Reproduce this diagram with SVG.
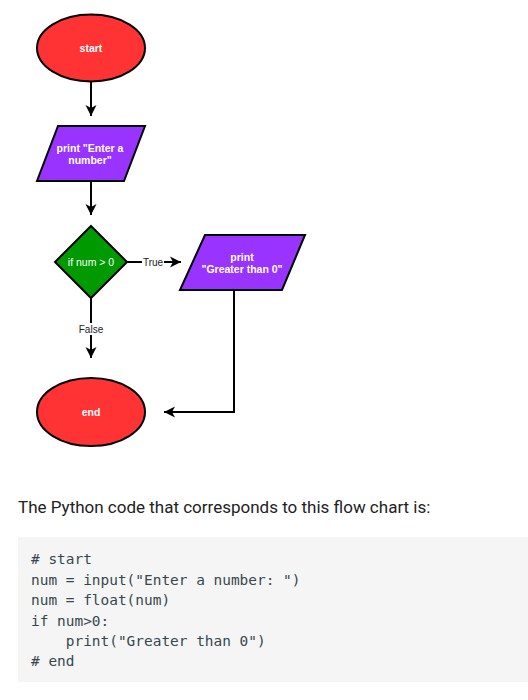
<svg xmlns="http://www.w3.org/2000/svg" width="528" height="700" viewBox="0 0 528 700">
<style>
.shape{stroke:#000;stroke-width:2}
.term{fill:#ff3333}
.io{fill:#9933ff}
.dec{fill:#009900}
.lbl{font-family:"Liberation Sans",Arial,sans-serif;font-size:10.5px;fill:#fff;text-anchor:middle}
.b{font-weight:bold}
.edge{fill:none;stroke:#000;stroke-width:2}
.elbl{font-family:"Liberation Sans",Arial,sans-serif;font-size:10px;fill:#222;text-anchor:middle}
.code{font-family:"DejaVu Sans Mono","Liberation Mono",monospace;font-size:14.45px;fill:#37474f;white-space:pre}
</style>
<defs>
<marker id="arr" viewBox="0 0 12 12" refX="11" refY="6" markerWidth="12" markerHeight="12" markerUnits="userSpaceOnUse" orient="auto">
<path d="M0,0.5 L11,6 L0,11.5 L3,6 Z" fill="#000"/>
</marker>
</defs>
<rect width="528" height="700" fill="#fff"/>
<g id="connectors">
<path class="edge" d="M91,82 V116" marker-end="url(#arr)"/>
<path class="edge" d="M91,181 V215" marker-end="url(#arr)"/>
<path class="edge" d="M127,262 H181" marker-end="url(#arr)"/>
<rect x="142" y="256" width="22" height="12" fill="#fff"/>
<text class="elbl" x="153" y="266">True</text>
<path class="edge" d="M91,298 V358" marker-end="url(#arr)"/>
<rect x="77" y="323" width="28" height="12" fill="#fff"/>
<text class="elbl" x="91" y="333">False</text>
<path class="edge" d="M234,290 V412 H164" marker-end="url(#arr)"/>
</g>
<g id="start">
<ellipse class="shape term" cx="91" cy="48" rx="54" ry="33.5"/>
<text class="lbl b" x="91" y="51.5">start</text>
</g>
<g id="input">
<polygon class="shape io" points="58,126 145,126 124,181 37,181"/>
<text class="lbl b" x="90" y="151.5">print "Enter a</text>
<text class="lbl b" x="90" y="164">number"</text>
</g>
<g id="decision">
<polygon class="shape dec" points="91,226 127,262 91,298 55,262"/>
<text class="lbl" x="91" y="265.5">if num &gt; 0</text>
</g>
<g id="output">
<polygon class="shape io" points="205,235 305,235 282,290 180,290"/>
<text class="lbl b" x="242" y="260.5">print</text>
<text class="lbl b" x="242" y="273">"Greater than 0"</text>
</g>
<g id="end">
<ellipse class="shape term" cx="91" cy="412" rx="54" ry="34"/>
<text class="lbl b" x="91" y="415.5">end</text>
</g>
<text x="18" y="513" font-family="Roboto,'Noto Sans',sans-serif" font-size="17px" fill="#222">The Python code that corresponds to this flow chart is:</text>
<rect x="18" y="537" width="510" height="145" fill="#f5f5f5"/>
<text class="code" x="31" y="564"># start</text>
<text class="code" x="31" y="584.5">num = input("Enter a number: ")</text>
<text class="code" x="31" y="605">num = float(num)</text>
<text class="code" x="31" y="625.5">if num&gt;0:</text>
<text class="code" x="31" y="646">    print("Greater than 0")</text>
<text class="code" x="31" y="666"># end</text>
</svg>
